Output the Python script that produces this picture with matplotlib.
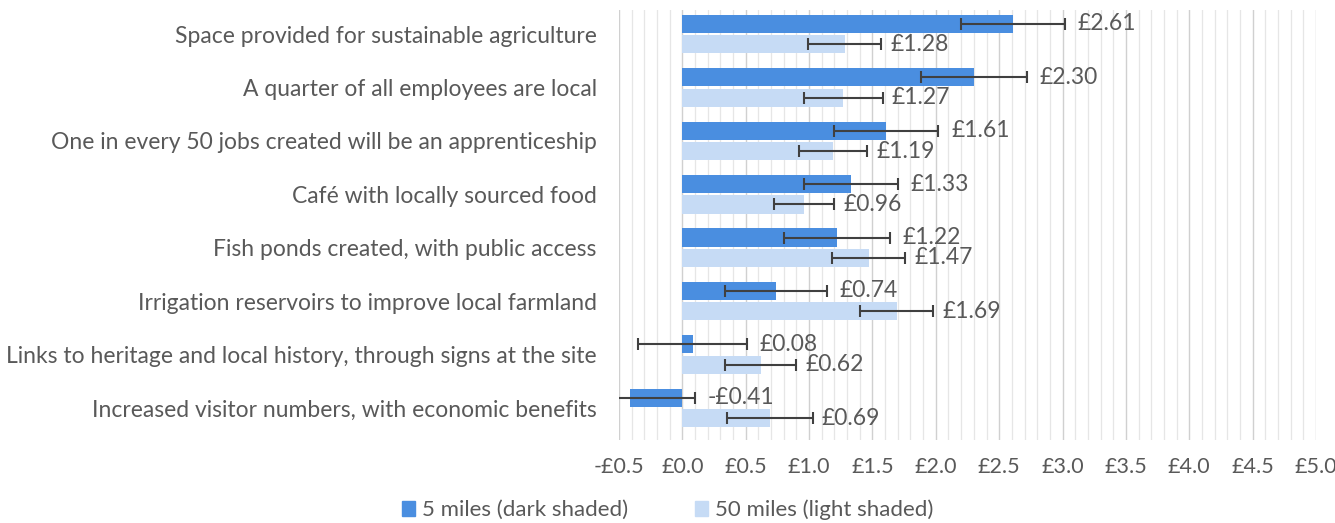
import numpy as np
import matplotlib.pyplot as plt
from matplotlib.ticker import MultipleLocator, FuncFormatter
from matplotlib.patches import Patch

categories = [
    "Space provided for sustainable agriculture",
    "A quarter of all employees are local",
    "One in every 50 jobs created will be an apprenticeship",
    "Café with locally sourced food",
    "Fish ponds created, with public access",
    "Irrigation reservoirs to improve local farmland",
    "Links to heritage and local history, through signs at the site",
    "Increased visitor numbers, with economic benefits",
]
near_vals = [2.61, 2.30, 1.61, 1.33, 1.22, 0.74, 0.08, -0.41]
near_err = [0.41, 0.42, 0.41, 0.37, 0.42, 0.40, 0.43, 0.51]
far_vals = [1.28, 1.27, 1.19, 0.96, 1.47, 1.69, 0.62, 0.69]
far_err = [0.29, 0.31, 0.27, 0.24, 0.29, 0.29, 0.28, 0.34]

dark = "#4a8ee0"
light = "#c6dbf5"
txt = "#595959"
plt.rcParams['font.family'] = ['Lato', 'DejaVu Sans']

def money(v):
    return ("-£%.2f" % -v) if v < 0 else ("£%.2f" % v)

fig = plt.figure(figsize=(13.35, 5.23), dpi=100)
ax = fig.add_axes([619 / 1335, 1 - 440 / 523, 697 / 1335, 430 / 523])

y = np.arange(len(categories))
h = 0.34
off = 0.19
ekw = dict(ecolor="#404040", elinewidth=1.5, capsize=4, capthick=1.5)
ax.barh(y - off, near_vals, height=h, color=dark, xerr=near_err, error_kw=ekw, zorder=3)
ax.barh(y + off, far_vals, height=h, color=light, xerr=far_err, error_kw=ekw, zorder=3)

for i in range(len(categories)):
    ax.text(near_vals[i] + near_err[i] + 0.1, y[i] - off, money(near_vals[i]),
            va="center", ha="left", fontsize=16.5, color=txt)
    ax.text(far_vals[i] + far_err[i] + 0.07, y[i] + off, money(far_vals[i]),
            va="center", ha="left", fontsize=16.5, color=txt)

ax.set_xlim(-0.5, 5.0)
ax.set_ylim(7.6, -0.45)
ax.xaxis.set_major_locator(MultipleLocator(0.5))
ax.xaxis.set_minor_locator(MultipleLocator(0.1))
ax.xaxis.set_major_formatter(FuncFormatter(lambda v, p: ("-£%.1f" % -v) if v < -1e-9 else ("£%.1f" % abs(v))))
ax.grid(which="major", axis="x", color="#d0d0d0", linewidth=1.0, zorder=0)
ax.grid(which="minor", axis="x", color="#e6e6e6", linewidth=0.9, zorder=0)
ax.set_yticks(y)
ax.set_yticklabels(categories)
ax.tick_params(axis="both", which="both", length=0, colors=txt)
ax.tick_params(axis="y", pad=16, labelsize=16.5)
ax.tick_params(axis="x", pad=12, labelsize=15.5)
for s in ax.spines.values():
    s.set_visible(False)

handles = [Patch(color=dark, label="5 miles (dark shaded)"),
           Patch(color=light, label="50 miles (light shaded)")]
fig.legend(handles=handles, loc="center", bbox_to_anchor=(0.5, 1 - 510 / 523), ncol=2,
           frameon=False, fontsize=16, handlelength=0.6, handleheight=0.6,
           handletextpad=0.3, columnspacing=3.0, labelcolor=txt)

fig.savefig("out.png", dpi=100)
